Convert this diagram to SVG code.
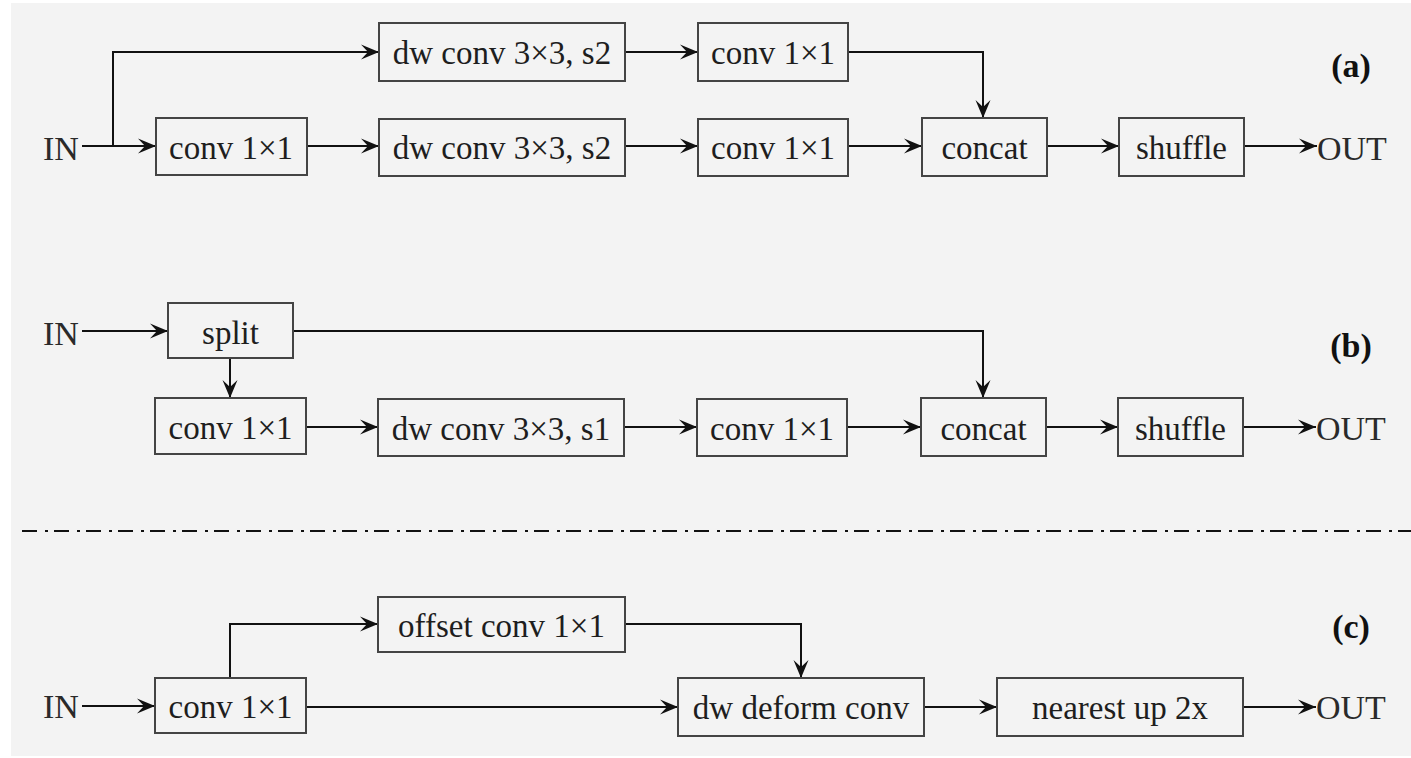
<svg xmlns="http://www.w3.org/2000/svg" width="1411" height="758" viewBox="0 0 1411 758">
<style>
.box{fill:#f3f3f3;stroke:#444;stroke-width:2}
.t{font-family:"Liberation Serif",serif;font-size:33px;fill:#1e1e1e;text-anchor:middle}
.io{font-family:"Liberation Serif",serif;font-size:34px;fill:#2a2a2a}
.lab{font-family:"Liberation Serif",serif;font-size:34px;font-weight:bold;fill:#111;text-anchor:middle}
.c{fill:none;stroke:#111;stroke-width:2;marker-end:url(#ah)}
</style>
<defs>
<marker id="ah" markerUnits="userSpaceOnUse" markerWidth="22" markerHeight="18" viewBox="-19 -9 20 18" refX="0" refY="0" orient="auto">
<path d="M0,0 L-18,-7.5 L-11,0 L-18,7.5 Z" fill="#111"/>
</marker>
</defs>
<rect x="0" y="0" width="1411" height="758" fill="#ffffff"/>
<rect x="11" y="3" width="1400" height="753" fill="#f3f3f3"/>

<g id="connectors">
<path class="c" d="M82,146 H156"/>
<path class="c" d="M113,146 V52 H379"/>
<path class="c" d="M625,52 H698"/>
<path class="c" d="M848,52 H983 V118"/>
<path class="c" d="M307,146 H379"/>
<path class="c" d="M625,146 H698"/>
<path class="c" d="M848,146 H922"/>
<path class="c" d="M1047,146 H1119"/>
<path class="c" d="M1244,146 H1317"/>

<path class="c" d="M82,331 H168"/>
<path class="c" d="M230,358 V398"/>
<path class="c" d="M293,331 H983 V398"/>
<path class="c" d="M306,427 H378"/>
<path class="c" d="M624,427 H697"/>
<path class="c" d="M847,427 H921"/>
<path class="c" d="M1046,427 H1118"/>
<path class="c" d="M1243,427 H1316"/>

<path class="c" d="M82,706 H155"/>
<path class="c" d="M230,678 V624 H378"/>
<path class="c" d="M625,624 H801 V678"/>
<path class="c" d="M306,707 H678"/>
<path class="c" d="M924,707 H997"/>
<path class="c" d="M1243,707 H1316"/>
</g>

<line id="separator" x1="22" y1="531" x2="1411" y2="531" stroke="#111" stroke-width="2" stroke-dasharray="15 8 3 6"/>

<g id="a_in"><text class="io" x="43" y="160">IN</text></g>
<g id="a_dw_top"><rect class="box" x="379" y="23" width="246" height="58"/><text class="t" x="502" y="64">dw conv 3×3, s2</text></g>
<g id="a_conv_top"><rect class="box" x="698" y="23" width="150" height="58"/><text class="t" x="773" y="64">conv 1×1</text></g>
<g id="a_conv1"><rect class="box" x="156" y="118" width="151" height="57"/><text class="t" x="231" y="159">conv 1×1</text></g>
<g id="a_dw"><rect class="box" x="379" y="119" width="246" height="57"/><text class="t" x="502" y="159">dw conv 3×3, s2</text></g>
<g id="a_conv2"><rect class="box" x="698" y="119" width="150" height="57"/><text class="t" x="773" y="159">conv 1×1</text></g>
<g id="a_concat"><rect class="box" x="922" y="118" width="125" height="58"/><text class="t" x="984.5" y="159">concat</text></g>
<g id="a_shuffle"><rect class="box" x="1119" y="118" width="125" height="58"/><text class="t" x="1181.5" y="159">shuffle</text></g>
<g id="a_out"><text class="io" x="1317" y="160">OUT</text></g>
<g id="a_label"><text class="lab" x="1351" y="77">(a)</text></g>

<g id="b_in"><text class="io" x="43" y="345">IN</text></g>
<g id="b_split"><rect class="box" x="168" y="303" width="125" height="55"/><text class="t" x="230.5" y="344">split</text></g>
<g id="b_conv1"><rect class="box" x="155" y="398" width="151" height="56"/><text class="t" x="230.5" y="439">conv 1×1</text></g>
<g id="b_dw"><rect class="box" x="378" y="399" width="246" height="57"/><text class="t" x="501" y="440">dw conv 3×3, s1</text></g>
<g id="b_conv2"><rect class="box" x="697" y="399" width="150" height="57"/><text class="t" x="772" y="440">conv 1×1</text></g>
<g id="b_concat"><rect class="box" x="921" y="398" width="125" height="58"/><text class="t" x="983.5" y="440">concat</text></g>
<g id="b_shuffle"><rect class="box" x="1118" y="398" width="125" height="58"/><text class="t" x="1180.5" y="440">shuffle</text></g>
<g id="b_out"><text class="io" x="1316" y="440">OUT</text></g>
<g id="b_label"><text class="lab" x="1351" y="357">(b)</text></g>

<g id="c_in"><text class="io" x="43" y="718">IN</text></g>
<g id="c_conv1"><rect class="box" x="155" y="678" width="151" height="55"/><text class="t" x="230.5" y="718">conv 1×1</text></g>
<g id="c_offset"><rect class="box" x="378" y="597" width="247" height="55"/><text class="t" x="501.5" y="637">offset conv 1×1</text></g>
<g id="c_deform"><rect class="box" x="678" y="678" width="246" height="58"/><text class="t" x="801" y="719">dw deform conv</text></g>
<g id="c_nearest"><rect class="box" x="997" y="678" width="246" height="58"/><text class="t" x="1120" y="719">nearest up 2x</text></g>
<g id="c_out"><text class="io" x="1316" y="719">OUT</text></g>
<g id="c_label"><text class="lab" x="1351" y="638">(c)</text></g>
</svg>
